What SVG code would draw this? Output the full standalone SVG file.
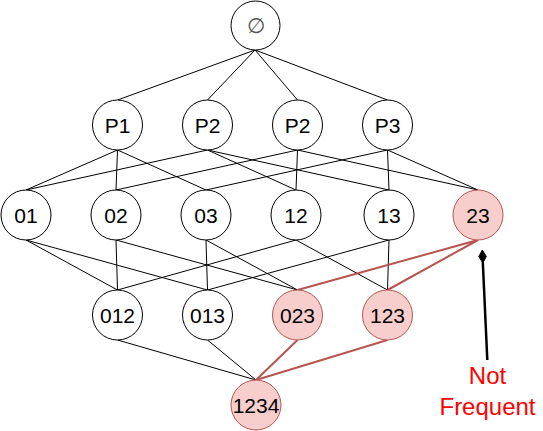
<svg xmlns="http://www.w3.org/2000/svg" width="543" height="431" viewBox="0 0 543 431">
<style>
.n circle{fill:#ffffff;stroke:#000000;stroke-width:1}
.n.bad circle{fill:#f8cecc;stroke:#b85450}
.n text{font-family:"Liberation Sans",Arial,sans-serif;font-size:21px;fill:#000000;text-anchor:middle}
.e line{stroke:#000000;stroke-width:1;fill:none}
.e line.r{stroke:#b85450;stroke-width:2}
.lbl{font-family:"Liberation Sans",Arial,sans-serif;font-size:24px;fill:#ff0000;text-anchor:middle}
</style>
<rect width="543" height="431" fill="#ffffff"/>
<g id="connectors" class="e">
<line x1="255" y1="50" x2="117.5" y2="100"/>
<line x1="255" y1="50" x2="207.5" y2="100"/>
<line x1="255" y1="50" x2="297.5" y2="100"/>
<line x1="255" y1="50" x2="387.5" y2="100"/>
<line x1="117.5" y1="150" x2="26" y2="190"/>
<line x1="117.5" y1="150" x2="116" y2="190"/>
<line x1="117.5" y1="150" x2="206" y2="190"/>
<line x1="207.5" y1="150" x2="26" y2="190"/>
<line x1="207.5" y1="150" x2="296" y2="190"/>
<line x1="207.5" y1="150" x2="389" y2="190"/>
<line x1="297.5" y1="150" x2="116" y2="190"/>
<line x1="297.5" y1="150" x2="296" y2="190"/>
<line x1="297.5" y1="150" x2="478" y2="190"/>
<line x1="387.5" y1="150" x2="206" y2="190"/>
<line x1="387.5" y1="150" x2="389" y2="190"/>
<line x1="387.5" y1="150" x2="478" y2="190"/>
<line x1="26" y1="240" x2="117.5" y2="290"/>
<line x1="26" y1="240" x2="207.5" y2="290"/>
<line x1="116" y1="240" x2="117.5" y2="290"/>
<line x1="116" y1="240" x2="297.5" y2="290"/>
<line x1="206" y1="240" x2="207.5" y2="290"/>
<line x1="206" y1="240" x2="297.5" y2="290"/>
<line x1="296" y1="240" x2="117.5" y2="290"/>
<line x1="296" y1="240" x2="387.5" y2="290"/>
<line x1="389" y1="240" x2="207.5" y2="290"/>
<line x1="389" y1="240" x2="387.5" y2="290"/>
<line class="r" x1="478" y1="240" x2="297.5" y2="290"/>
<line class="r" x1="478" y1="240" x2="387.5" y2="290"/>
<line x1="117.5" y1="340" x2="256" y2="380"/>
<line x1="207.5" y1="340" x2="256" y2="380"/>
<line class="r" x1="297.5" y1="340" x2="256" y2="380"/>
<line class="r" x1="387.5" y1="340" x2="256" y2="380"/>
</g>
<g id="arrow">
<line x1="487.3" y1="360" x2="482.8" y2="262" stroke="#000000" stroke-width="2.5"/>
<polygon points="482.3,250 486.3,256.5 482.8,263 478.8,256.5" fill="#000000" stroke="#000000" stroke-width="1"/>
</g>
<g id="n-empty" class="n"><circle cx="255.5" cy="25.5" r="24.5"/><text x="255.5" y="33" style="fill:#555555">∅</text></g>
<g id="n-p1" class="n"><circle cx="117.5" cy="125" r="25"/><text x="117.5" y="133">P1</text></g>
<g id="n-p2a" class="n"><circle cx="207.5" cy="125" r="25"/><text x="207.5" y="133">P2</text></g>
<g id="n-p2b" class="n"><circle cx="297.5" cy="125" r="25"/><text x="297.5" y="133">P2</text></g>
<g id="n-p3" class="n"><circle cx="387.5" cy="125" r="25"/><text x="387.5" y="133">P3</text></g>
<g id="n-01" class="n"><circle cx="26" cy="215" r="25"/><text x="26" y="223">01</text></g>
<g id="n-02" class="n"><circle cx="116" cy="215" r="25"/><text x="116" y="223">02</text></g>
<g id="n-03" class="n"><circle cx="206" cy="215" r="25"/><text x="206" y="223">03</text></g>
<g id="n-12" class="n"><circle cx="296" cy="215" r="25"/><text x="296" y="223">12</text></g>
<g id="n-13" class="n"><circle cx="389" cy="215" r="25"/><text x="389" y="223">13</text></g>
<g id="n-23" class="n bad"><circle cx="478" cy="215" r="25"/><text x="478" y="223">23</text></g>
<g id="n-012" class="n"><circle cx="117.5" cy="315" r="25"/><text x="117.5" y="323">012</text></g>
<g id="n-013" class="n"><circle cx="207.5" cy="315" r="25"/><text x="207.5" y="323">013</text></g>
<g id="n-023" class="n bad"><circle cx="297.5" cy="315" r="25"/><text x="297.5" y="323">023</text></g>
<g id="n-123" class="n bad"><circle cx="387.5" cy="315" r="25"/><text x="387.5" y="323">123</text></g>
<g id="n-1234" class="n bad"><circle cx="256" cy="405" r="25"/><text x="256" y="413">1234</text></g>
<g id="label-not-frequent"><text class="lbl" x="487.5" y="384">Not</text><text class="lbl" x="487.5" y="415">Frequent</text></g>
</svg>
